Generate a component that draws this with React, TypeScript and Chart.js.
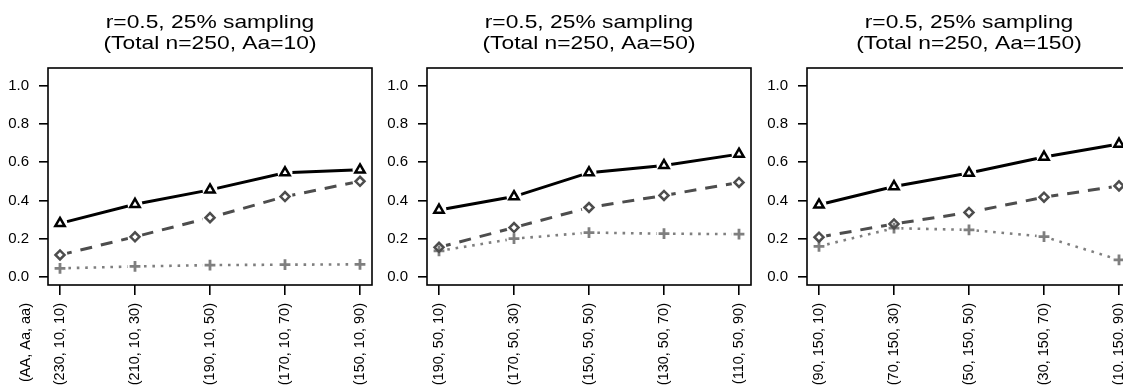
import React, { useEffect, useRef } from "react";
import { Chart, registerables } from "chart.js";

Chart.register(...registerables);

// ---------- data ----------
const xPositions = [1, 2, 3, 4, 5];
const yTickValues = [0, 0.2, 0.4, 0.6, 0.8, 1.0];

const titleLine1 = "r=0.5, 25% sampling";
const titleLine2 = ["(Total n=250, Aa=10)", "(Total n=250, Aa=50)", "(Total n=250, Aa=150)"];
const genotypeAxisLabel = "(AA, Aa, aa)";

const categoriesA = ["(230, 10, 10)", "(210, 10, 30)", "(190, 10, 50)", "(170, 10, 70)", "(150, 10, 90)"];
const categoriesB = ["(190, 50, 10)", "(170, 50, 30)", "(150, 50, 50)", "(130, 50, 70)", "(110, 50, 90)"];
const categoriesC = ["(90, 150, 10)", "(70, 150, 30)", "(50, 150, 50)", "(30, 150, 70)", "(10, 150, 90)"];

const solidA = [0.28, 0.38, 0.455, 0.545, 0.56];
const dashedA = [0.115, 0.21, 0.31, 0.42, 0.5];
const dottedA = [0.045, 0.055, 0.062, 0.064, 0.066];

const solidB = [0.35, 0.42, 0.545, 0.583, 0.642];
const dashedB = [0.155, 0.258, 0.363, 0.426, 0.494];
const dottedB = [0.136, 0.2, 0.232, 0.226, 0.224];

const solidC = [0.377, 0.473, 0.543, 0.627, 0.695];
const dashedC = [0.208, 0.277, 0.337, 0.417, 0.476];
const dottedC = [0.16, 0.255, 0.246, 0.211, 0.089];

const panels = [
  { categories: categoriesA, solid: solidA, dashed: dashedA, dotted: dottedA, title2: titleLine2[0], sideLabel: genotypeAxisLabel },
  { categories: categoriesB, solid: solidB, dashed: dashedB, dotted: dottedB, title2: titleLine2[1], sideLabel: "" },
  { categories: categoriesC, solid: solidC, dashed: dashedC, dotted: dottedC, title2: titleLine2[2], sideLabel: "" },
];

// ---------- layout / style ----------
const FONT = "'Liberation Sans', Arial, Helvetica, sans-serif";
const CANVAS_W = 386;
const CANVAS_H = 389;
const PANEL_LEFTS = [0, 379, 759];
const GAP_R = 7.5;

const SOLID = "#000000";
const DASHED = "#4d4d4d";
const DOTTED = "#7f7f7f";

// frame, title and the rotated "(AA, Aa, aa)" label
const framePlugin = {
  id: "frame",
  afterDraw(chart: any, _args: any, opts: any) {
    const { ctx, chartArea: a } = chart;
    ctx.save();
    ctx.strokeStyle = "#000";
    ctx.lineWidth = 1.6;
    ctx.strokeRect(a.left, a.top, a.right - a.left, a.bottom - a.top);

    // title (two lines, centred over the plot box)
    ctx.fillStyle = "#000";
    ctx.font = `19px ${FONT}`;
    ctx.textAlign = "center";
    ctx.textBaseline = "alphabetic";
    const cx = (a.left + a.right) / 2;
    const lines: string[] = opts.title || [];
    const offs = [-39.7, -18.6];
    lines.forEach((t, i) => {
      ctx.save();
      ctx.translate(cx, a.top + offs[i]);
      ctx.scale(1.2, 1);
      ctx.fillText(t, 0, 0);
      ctx.restore();
    });

    if (opts.label) {
      ctx.save();
      ctx.translate(a.left - 22, a.bottom + 18);
      ctx.rotate(-Math.PI / 2);
      ctx.font = `14.5px ${FONT}`;
      ctx.textAlign = "right";
      ctx.textBaseline = "middle";
      ctx.fillText(opts.label, 0, 0);
      ctx.restore();
    }
    ctx.restore();
  },
};

// leaves a small gap in a line around each of its own points (like R's type = "b")
const gapPlugin = {
  id: "lineGaps",
  beforeDatasetDraw(chart: any, args: any) {
    const ds = chart.data.datasets[args.index];
    if (!ds.gapRadius) return;
    const ctx = chart.ctx;
    ctx.save();
    ctx.beginPath();
    ctx.rect(0, 0, chart.width, chart.height);
    for (const el of args.meta.data) {
      ctx.moveTo(el.x + ds.gapRadius, el.y);
      ctx.arc(el.x, el.y, ds.gapRadius, 0, Math.PI * 2);
    }
    ctx.clip("evenodd");
  },
  afterDatasetDraw(chart: any, args: any) {
    const ds = chart.data.datasets[args.index];
    if (!ds.gapRadius) return;
    chart.ctx.restore();
  },
};

function toPoints(values: number[]) {
  return xPositions.map((x, i) => ({ x, y: values[i] }));
}

function makeConfig(p: (typeof panels)[number]): any {
  return {
    type: "line",
    data: {
      datasets: [
        // markers (drawn on top)
        {
          data: toPoints(p.solid),
          showLine: false,
          pointStyle: "triangle",
          pointRadius: 5.4,
          pointBorderWidth: 2.5,
          pointBackgroundColor: "rgba(0,0,0,0)",
          pointBorderColor: SOLID,
        },
        {
          data: toPoints(p.dashed),
          showLine: false,
          pointStyle: "rectRot",
          pointRadius: 4.5,
          pointBorderWidth: 2.5,
          pointBackgroundColor: "rgba(0,0,0,0)",
          pointBorderColor: DASHED,
        },
        {
          data: toPoints(p.dotted),
          showLine: false,
          pointStyle: "cross",
          pointRadius: 5.4,
          pointBorderWidth: 2.8,
          pointBorderColor: DOTTED,
        },
        // lines
        {
          data: toPoints(p.solid),
          gapRadius: GAP_R,
          borderColor: SOLID,
          borderWidth: 3,
          pointRadius: 0,
          tension: 0,
        },
        {
          data: toPoints(p.dashed),
          gapRadius: GAP_R,
          borderColor: DASHED,
          borderWidth: 3,
          borderDash: [12, 9],
          pointRadius: 0,
          tension: 0,
        },
        {
          data: toPoints(p.dotted),
          gapRadius: GAP_R,
          borderColor: DOTTED,
          borderWidth: 2.6,
          borderDash: [2.6, 5.8],
          pointRadius: 0,
          tension: 0,
        },
      ],
    },
    options: {
      responsive: false,
      animation: false,
      events: [],
      layout: { padding: { left: 0, right: 14, top: 68, bottom: 0 } },
      plugins: {
        legend: { display: false },
        tooltip: { enabled: false },
        title: { display: false },
        frame: { title: [titleLine1, p.title2], label: p.sideLabel },
      },
      scales: {
        x: {
          type: "linear",
          min: 0.84,
          max: 5.16,
          afterBuildTicks: (axis: any) => {
            axis.ticks = xPositions.map((v) => ({ value: v }));
          },
          afterFit: (scale: any) => {
            scale.height = 104;
          },
          ticks: {
            autoSkip: false,
            minRotation: 90,
            maxRotation: 90,
            padding: 8,
            color: "#000",
            font: { family: FONT, size: 14.5 },
            callback: (_v: any, i: number) => p.categories[i],
          },
          grid: { drawOnChartArea: false, drawTicks: true, tickLength: 10, color: "#000", lineWidth: 1.6 },
          border: { display: false },
        },
        y: {
          type: "linear",
          min: -0.042,
          max: 1.092,
          afterBuildTicks: (axis: any) => {
            axis.ticks = yTickValues.map((v) => ({ value: v }));
          },
          afterFit: (scale: any) => {
            scale.width = 48;
          },
          ticks: {
            padding: 10,
            color: "#000",
            font: { family: FONT, size: 15 },
            callback: (v: any) => Number(v).toFixed(1),
          },
          grid: { drawOnChartArea: false, drawTicks: true, tickLength: 9, color: "#000", lineWidth: 1.6 },
          border: { display: false },
        },
      },
    },
    plugins: [gapPlugin, framePlugin],
  };
}

export default function App() {
  const refs = [useRef<HTMLCanvasElement>(null), useRef<HTMLCanvasElement>(null), useRef<HTMLCanvasElement>(null)];

  useEffect(() => {
    const charts: Chart[] = [];
    panels.forEach((p, i) => {
      const c = refs[i].current;
      if (c) charts.push(new Chart(c, makeConfig(p)));
    });
    return () => charts.forEach((c) => c.destroy());
  }, []);

  return (
    <div
      style={{
        position: "fixed",
        left: 0,
        top: 0,
        width: 1123,
        height: 389,
        overflow: "hidden",
        background: "#fff",
      }}
    >
      {panels.map((_, i) => (
        <canvas
          key={i}
          ref={refs[i]}
          width={CANVAS_W}
          height={CANVAS_H}
          style={{ position: "absolute", left: PANEL_LEFTS[i], top: 0 }}
        />
      ))}
    </div>
  );
}
